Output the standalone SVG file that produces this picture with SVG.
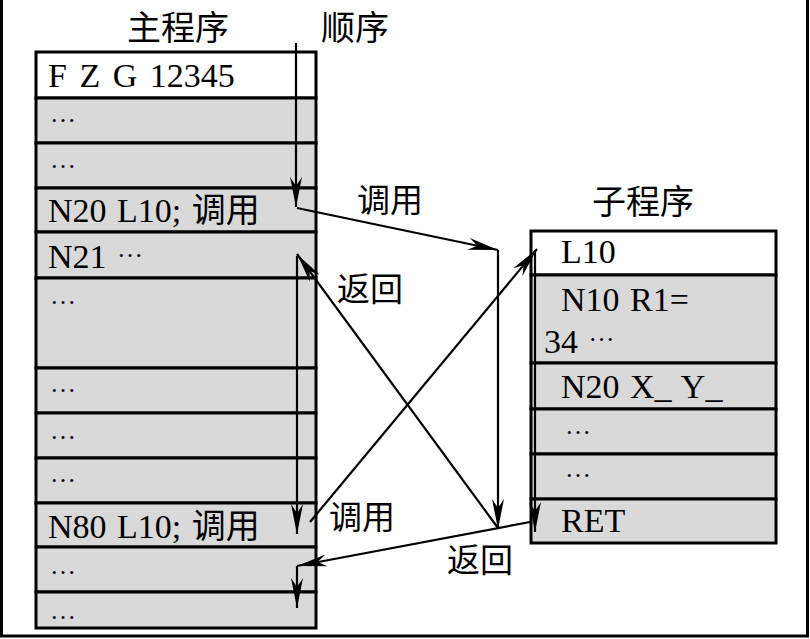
<svg xmlns="http://www.w3.org/2000/svg" width="810" height="639" viewBox="0 0 810 639">
<style>
text{font-family:"Liberation Serif","Noto Sans CJK SC",serif;font-size:34px;fill:#000;word-spacing:2px}
.cjk{font-family:"Noto Sans CJK SC","Liberation Serif",sans-serif;font-size:33px;word-spacing:0}
.dots{font-family:"Liberation Serif",serif;font-size:26px}
.w{fill:#fff;stroke:#000;stroke-width:3}
.g{fill:#d9d9d9;stroke:#000;stroke-width:3}
.c{stroke:#000;stroke-width:2.2;fill:none;marker-end:url(#ah)}
.frame{stroke:#000;stroke-width:3;fill:none}
</style>
<defs>
<marker id="ah" markerUnits="userSpaceOnUse" markerWidth="32" markerHeight="14" refX="30" refY="6" orient="auto" viewBox="0 0 32 12">
<path d="M0,0 L30,6 L0,12 L9,6 Z" fill="#000"/>
</marker>
</defs>
<rect width="810" height="639" fill="#fff"/>
<path class="frame" d="M1.5,0 V636 H807.5 V0"/>
<g id="main-title"><text class="cjk" x="127" y="40" style="font-size:34px">主程序</text></g>
<g id="seq-label"><text class="cjk" x="321" y="40" style="font-size:34px">顺序</text></g>
<g id="sub-title"><text class="cjk" x="592" y="214" style="font-size:34px">子程序</text></g>
<g id="main-program">
<rect class="w" x="36" y="52" width="280" height="46"/>
<text x="48" y="87" style="word-spacing:4px">F Z G 12345</text>
<rect class="g" x="36" y="98" width="280" height="45"/>
<text class="dots" x="50" y="122">…</text>
<rect class="g" x="36" y="143" width="280" height="45"/>
<text class="dots" x="50" y="168">…</text>
<rect class="g" x="36" y="188" width="280" height="44"/>
<text x="48" y="222">N20 L10; <tspan class="cjk" style="font-size:34px">调用</tspan></text>
<rect class="g" x="36" y="232" width="280" height="46"/>
<text x="48" y="268">N21 <tspan class="dots" dy="-11">…</tspan></text>
<rect class="g" x="36" y="278" width="280" height="90"/>
<text class="dots" x="50" y="304">…</text>
<rect class="g" x="36" y="368" width="280" height="45"/>
<text class="dots" x="50" y="392">…</text>
<rect class="g" x="36" y="413" width="280" height="45"/>
<text class="dots" x="50" y="439">…</text>
<rect class="g" x="36" y="458" width="280" height="45"/>
<text class="dots" x="50" y="482">…</text>
<rect class="g" x="36" y="503" width="280" height="44"/>
<text x="48" y="538">N80 L10; <tspan class="cjk" style="font-size:34px">调用</tspan></text>
<rect class="g" x="36" y="547" width="280" height="45"/>
<text class="dots" x="50" y="574">…</text>
<rect class="g" x="36" y="592" width="280" height="36"/>
<text class="dots" x="50" y="619">…</text>
</g>
<g id="sub-program">
<rect class="w" x="531" y="231" width="245" height="44"/>
<text x="561" y="263">L10</text>
<rect class="g" x="531" y="275" width="245" height="88"/>
<text x="561" y="311">N10 R1=</text>
<text x="544" y="353">34 <tspan class="dots" dy="-12">…</tspan></text>
<rect class="g" x="531" y="363" width="245" height="46"/>
<text x="561" y="398">N20 X_ Y_</text>
<rect class="g" x="531" y="409" width="245" height="45"/>
<text class="dots" x="565" y="434">…</text>
<rect class="g" x="531" y="454" width="245" height="45"/>
<text class="dots" x="565" y="477">…</text>
<rect class="g" x="531" y="499" width="245" height="44"/>
<text x="561" y="532">RET</text>
</g>
<g id="connectors">
<line class="c" x1="296" y1="43" x2="296" y2="207"/>
<line class="c" x1="297" y1="208" x2="498" y2="250"/>
<line class="c" x1="498" y1="250" x2="498" y2="529"/>
<line class="c" x1="498" y1="528" x2="297" y2="254"/>
<line class="c" x1="297" y1="256" x2="297" y2="534"/>
<line class="c" x1="310" y1="522" x2="537" y2="249"/>
<line class="c" x1="535" y1="250" x2="535" y2="532"/>
<line class="c" x1="530" y1="522" x2="297" y2="566"/>
<line class="c" x1="297" y1="566" x2="297" y2="608"/>
</g>
<g id="labels">
<text class="cjk" x="357" y="212">调用</text>
<text class="cjk" x="337" y="301">返回</text>
<text class="cjk" x="329" y="529">调用</text>
<text class="cjk" x="447" y="572">返回</text>
</g>
</svg>
